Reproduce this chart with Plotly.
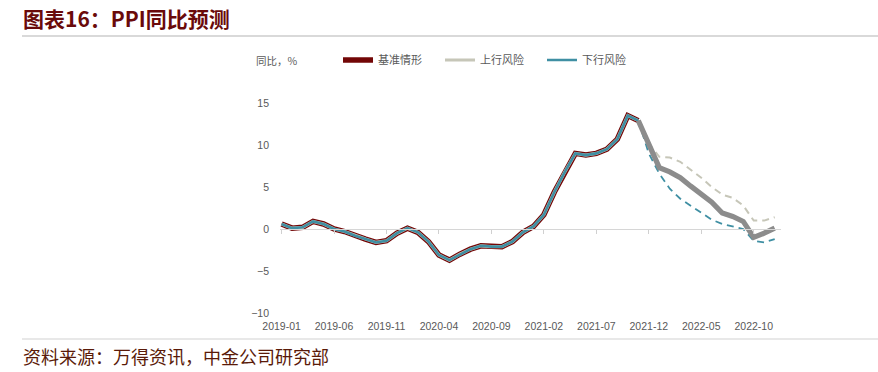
import plotly.graph_objects as go

# ---------------- data ----------------
months = [f"{y}-{m:02d}" for y in (2019, 2020, 2021, 2022) for m in range(1, 13)]
tick_labels = ["2019-01", "2019-06", "2019-11", "2020-04", "2020-09",
               "2021-02", "2021-07", "2021-12", "2022-05", "2022-10"]
y_ticks = [-10, -5, 0, 5, 10, 15]

# actual PPI yoy, 2019-01 .. 2021-11
history = [0.6, 0.1, 0.2, 0.9, 0.6, 0.0, -0.3, -0.8, -1.2, -1.6, -1.4, -0.5,
           0.1, -0.4, -1.5, -3.1, -3.7, -3.0, -2.4, -2.0, -2.1, -2.1, -1.5, -0.4,
           0.3, 1.7, 4.4, 6.8, 9.0, 8.8, 9.0, 9.5, 10.7, 13.5, 12.9]
# forecasts, 2021-11 .. 2022-12
base_fc = [12.9, 10.0, 7.3, 6.8, 6.1, 5.1, 4.2, 3.2, 1.9, 1.5, 0.9, -1.0, -0.5, 0.1]
upper_fc = [12.9, 10.2, 8.6, 8.5, 8.0, 7.1, 6.1, 5.0, 4.1, 3.7, 2.8, 1.0, 1.0, 1.4]
lower_fc = [12.9, 9.0, 6.6, 4.8, 3.6, 2.8, 1.9, 1.1, 0.6, 0.3, 0.0, -1.4, -1.6, -1.2]

hist_x = months[:len(history)]
fc_x = months[len(history) - 1:]

# ---------------- layout geometry ----------------
W, H = 878, 372
ML, MR, MT, MB = 280, 97, 103, 59
PW, PH = W - ML - MR, H - MT - MB


def px(xp):
    return (xp - ML) / PW


def py(yp):
    return (H - MB - yp) / PH


RED = "#720606"
GREY = "#8c8c8c"
LIGHT = "#c6c6b8"
TEAL = "#3f8fa3"
TXT = "#595959"
CJK = "Noto Sans CJK SC"

fig = go.Figure()

# history
fig.add_trace(go.Scatter(x=hist_x, y=history, mode="lines", name="基准情形",
                         line=dict(color=RED, width=5.5), hoverinfo="skip"))
fig.add_trace(go.Scatter(x=hist_x, y=history, mode="lines", name="上行风险",
                         line=dict(color=LIGHT, width=3.2), hoverinfo="skip"))
fig.add_trace(go.Scatter(x=hist_x, y=history, mode="lines", name="下行风险",
                         line=dict(color=TEAL, width=2.6), hoverinfo="skip"))
# forecasts
fig.add_trace(go.Scatter(x=fc_x, y=upper_fc, mode="lines", showlegend=False,
                         line=dict(color=LIGHT, width=2, dash="7px,5px"), hoverinfo="skip"))
fig.add_trace(go.Scatter(x=fc_x, y=lower_fc, mode="lines", showlegend=False,
                         line=dict(color=TEAL, width=1.8, dash="7px,5px"), hoverinfo="skip"))
fig.add_trace(go.Scatter(x=fc_x, y=base_fc, mode="lines", showlegend=False,
                         line=dict(color=GREY, width=5.2), hoverinfo="skip"))
# dummy trace for the zero-line axis
fig.add_trace(go.Scatter(x=months, y=[None] * len(months), xaxis="x2",
                         showlegend=False, hoverinfo="skip"))

xrange = [-0.15, 47.6]

fig.update_layout(
    width=W, height=H,
    margin=dict(l=ML, r=MR, t=MT, b=MB, autoexpand=False),
    paper_bgcolor="white", plot_bgcolor="white",
    font=dict(family="Liberation Sans, Arial", size=10.5, color=TXT),
    xaxis=dict(type="category", categoryorder="array", categoryarray=months,
               range=xrange, tickmode="array", tickvals=tick_labels, ticktext=tick_labels,
               showgrid=False, zeroline=False, showline=False, ticks="",
               ticklabelstandoff=5, tickfont=dict(size=10.5, color=TXT)),
    xaxis2=dict(type="category", categoryorder="array", categoryarray=months,
                overlaying="x", anchor="free", position=py(229), side="bottom",
                range=xrange, tickmode="array", tickvals=tick_labels,
                showticklabels=False, ticks="outside", ticklen=4, tickcolor="#d0d0d0",
                showline=True, linecolor="#d6d6d6", linewidth=1.3,
                showgrid=False, zeroline=False),
    yaxis=dict(range=[-10, 15], tickmode="array", tickvals=y_ticks,
               showgrid=False, zeroline=False, showline=False, ticks="",
               ticklabelstandoff=10, tickfont=dict(size=10.5, color=TXT)),
    legend=dict(orientation="h", x=px(338), y=py(60), xanchor="left", yanchor="middle",
                entrywidth=57, entrywidthmode="pixels",
                font=dict(family=CJK, size=11, color=TXT),
                bgcolor="rgba(0,0,0,0)", itemclick=False, itemdoubleclick=False),
    showlegend=True,
    hovermode=False,
)

annotations = [
    dict(text="<b>图表16：PPI同比预测</b>", x=px(21), y=py(18), xanchor="left", yanchor="middle",
         font=dict(family=CJK, size=21, color="#6a0a0a")),
    dict(text="同比，%", x=px(254), y=py(60), xanchor="left", yanchor="middle",
         font=dict(family=CJK, size=10.5, color=TXT)),
    dict(text="资料来源：万得资讯，中金公司研究部", x=px(21), y=py(356), xanchor="left",
         yanchor="middle", font=dict(family=CJK, size=18, color="#5a1a08")),
]
for a in annotations:
    a.update(xref="paper", yref="paper", showarrow=False)
fig.update_layout(annotations=annotations)

fig.update_layout(shapes=[
    dict(type="line", xref="paper", yref="paper", x0=px(22), x1=px(878), y0=py(36), y1=py(36),
         line=dict(color="#d9d9d9", width=2)),
    dict(type="line", xref="paper", yref="paper", x0=px(22), x1=px(878), y0=py(339), y1=py(339),
         line=dict(color="#e0e0e0", width=1.5)),
])

fig.write_html("out.html", config={"displayModeBar": False},
               post_script="document.body.style.margin='0px';")
